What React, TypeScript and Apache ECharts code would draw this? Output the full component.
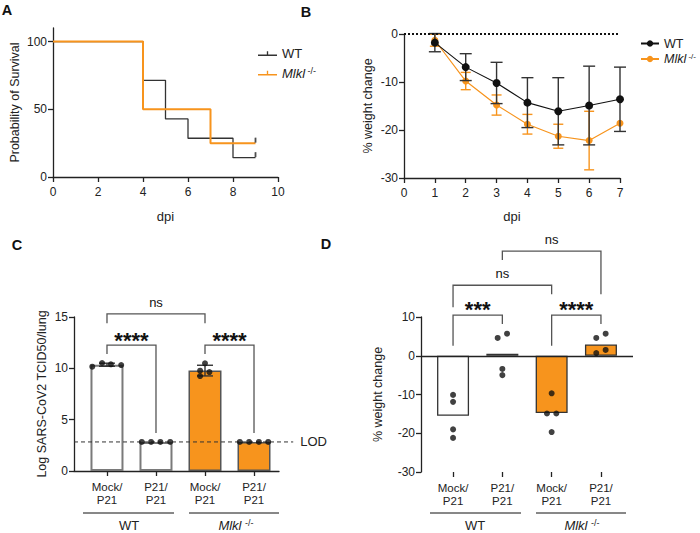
import React, { useEffect, useRef } from 'react';
import * as echarts from 'echarts';

const FONT = '"Liberation Sans", Arial, Helvetica, sans-serif';
const ORANGE = '#F7941D';
const INK = '#222222';

// ---------- Panel A: survival ----------
const survivalXMax = 10;
const survivalYTicks = [0, 50, 100];
const survivalWT = [[0, 100], [4, 71.4], [5, 42.9], [6, 28.6], [8, 14.3], [9, 14.3]];
const survivalMlkl = [[0, 100], [4, 50], [7, 25], [9, 25]];
const censoredWT = [[9, 14.3]];
const censoredMlkl = [[9, 25]];

// ---------- Panel B: weight change over time ----------
const weightDays = [1, 2, 3, 4, 5, 6, 7];
const weightWT = [-1.8, -6.9, -10.2, -14.3, -16.1, -14.9, -13.6];
const weightWTsd = [1.9, 2.8, 4.3, 5.2, 7.0, 8.2, 6.7];
const weightMlkl = [-1.3, -9.8, -14.8, -18.8, -21.3, -22.2, -18.6];
const weightMlklSd = [1.25, 1.8, 2.1, 2.05, 2.5, 6.1, 0];

// ---------- Panel C: lung titers ----------
const groupLabels = ['Mock/\nP21', 'P21/\nP21', 'Mock/\nP21', 'P21/\nP21'];
const groupIdx = [0, 1, 2, 3];
const titerMeans = [10.35, 2.83, 9.78, 2.83];
const titerSD = [0.15, 0, 0.52, 0];
// [group, jitter, value]
const titerDots = [
  [0, -0.3, 10.16], [0, -0.1, 10.52], [0, 0.08, 10.39], [0, 0.29, 10.32],
  [1, -0.29, 2.83], [1, -0.1, 2.83], [1, 0.09, 2.83], [1, 0.29, 2.83],
  [2, 0, 10.49], [2, -0.1, 9.77], [2, 0.09, 9.64], [2, -0.1, 9.25],
  [3, -0.29, 2.83], [3, -0.1, 2.83], [3, 0.1, 2.83], [3, 0.29, 2.83],
];
const LOD = 2.83;
// [x1, x2, top, leftEnd, rightEnd, labelY]
const titerBrackets = [
  [0, 1, 12.27, 11.4, 3.7, 13.2],
  [2, 3, 12.27, 11.4, 3.7, 13.2],
  [0, 2, 15.3, 14.4, 14.4, 16.4],
];
const titerBracketLabels = ['****', '****', 'ns'];

// ---------- Panel D: weight change at endpoint ----------
const endWeightMeans = [-15.5, 0.5, -14.8, 2.9];
const endWeightDots = [
  [0, 0, -10.1], [0, 0, -11.9], [0, 0, -19.0], [0, 0, -21.2],
  [1, -0.095, 4.6], [1, 0.095, 5.7], [1, 0, -3.4], [1, 0, -5.0],
  [2, 0, -9.7], [2, -0.095, -14.9], [2, 0.095, -14.9], [2, 0, -19.7],
  [3, -0.095, 4.6], [3, 0.095, 5.7], [3, 0.095, 1.5], [3, -0.095, 0.7],
];
const endBrackets = [
  [0, 1, 10.5, 2.6, 8.2, 13.1],
  [2, 3, 10.5, 2.6, 8.2, 13.1],
  [0, 2, 18.2, 12.5, 15.9, 21.3],
  [1, 3, 27.0, 24.7, 15.9, 30.1],
];
const endBracketLabels = ['***', '****', 'ns', 'ns'];

const groupFill = ['#ffffff', '#ffffff', ORANGE, ORANGE];

const mlklRich = {
  i: { fontStyle: 'italic', fontSize: 13, fontFamily: FONT, color: INK, lineHeight: 14 },
  s: { fontSize: 9, fontFamily: FONT, color: INK, verticalAlign: 'top', lineHeight: 14 },
  n: { fontSize: 13, fontFamily: FONT, color: INK, lineHeight: 14 },
};
const mlklRichSmall = {
  i: { fontStyle: 'italic', fontSize: 12.5, fontFamily: FONT, color: INK, lineHeight: 14 },
  s: { fontSize: 8, fontFamily: FONT, color: INK, verticalAlign: 'top', lineHeight: 14 },
  n: { fontSize: 12.5, fontFamily: FONT, color: INK, lineHeight: 14 },
};
const legendFormatter = (name: string) => (name.startsWith('WT') ? '{n|WT}' : '{i|Mlkl}{s| -/-}');

const tickIcon = 'path://M0,4.5L20,4.5L20,6L0,6Z M9.3,1L10.7,1L10.7,4.5L9.3,4.5Z';

const axisLine = { onZero: false, lineStyle: { color: INK, width: 1.3 } };
const axisTick = { length: 5, lineStyle: { color: INK, width: 1.3 } };
const tickLabel = { fontSize: 12, color: INK, fontFamily: FONT };

function errorBars(xi: number, yi: number, data: number[][], color: string, half: number, z: number) {
  return {
    type: 'custom',
    xAxisIndex: xi,
    yAxisIndex: yi,
    z,
    silent: true,
    clip: false,
    data,
    encode: { x: 0, y: [1, 2] },
    renderItem: (params: any, api: any) => {
      const x = api.value(0);
      const lo = api.value(1);
      const hi = api.value(2);
      if (hi - lo <= 0) return { type: 'group', children: [] };
      const a = api.coord([x, lo]);
      const b = api.coord([x, hi]);
      const st = { stroke: color, lineWidth: 1.4 };
      return {
        type: 'group',
        children: [
          { type: 'line', shape: { x1: a[0], y1: a[1], x2: b[0], y2: b[1] }, style: st },
          { type: 'line', shape: { x1: a[0] - half, y1: a[1], x2: a[0] + half, y2: a[1] }, style: st },
          { type: 'line', shape: { x1: b[0] - half, y1: b[1], x2: b[0] + half, y2: b[1] }, style: st },
        ],
      };
    },
  };
}

function brackets(xi: number, yi: number, rows: number[][], labels: string[]) {
  return {
    type: 'custom',
    xAxisIndex: xi,
    yAxisIndex: yi,
    z: 6,
    silent: true,
    clip: false,
    data: rows,
    encode: { x: [0, 1], y: [2, 3, 4, 5] },
    renderItem: (params: any, api: any) => {
      const x1 = api.value(0);
      const x2 = api.value(1);
      const top = api.value(2);
      const l = api.value(3);
      const r = api.value(4);
      const ty = api.value(5);
      const pTL = api.coord([x1, top]);
      const pTR = api.coord([x2, top]);
      const pL = api.coord([x1, l]);
      const pR = api.coord([x2, r]);
      const pT = api.coord([(x1 + x2) / 2, ty]);
      const label = labels[params.dataIndex];
      const star = label.startsWith('*');
      return {
        type: 'group',
        children: [
          {
            type: 'polyline',
            shape: { points: [pL, pTL, pTR, pR] },
            style: { stroke: '#555', lineWidth: 1.3, fill: 'none' },
          },
          {
            type: 'text',
            x: pT[0],
            y: pT[1] + (star ? 5 : 0),
            style: {
              text: label,
              fill: '#111',
              fontSize: star ? 22 : 13,
              fontWeight: star ? 'bold' : 'normal',
              fontFamily: FONT,
              align: 'center',
              verticalAlign: 'middle',
            },
          },
        ],
      };
    },
  };
}

function buildOption(): any {
  const catAxisLabel = {
    customValues: groupIdx,
    formatter: (v: number) => groupLabels[Math.round(v)] ?? '',
    fontSize: 11.5,
    lineHeight: 13,
    color: INK,
    fontFamily: FONT,
    margin: 9,
  };
  return {
    animation: false,
    backgroundColor: '#ffffff',
    textStyle: { fontFamily: FONT },
    grid: [
      { left: 53, top: 28, width: 225, height: 149 },
      { left: 404, top: 34, width: 216, height: 144 },
      { left: 74, top: 317, width: 205, height: 154 },
      { left: 421, top: 317, width: 212, height: 155 },
    ],
    legend: [
      {
        data: [
          { name: 'WT-A', icon: tickIcon },
          { name: 'Mlkl-A', icon: tickIcon },
        ],
        orient: 'vertical',
        left: 253,
        top: 42,
        itemWidth: 19,
        itemHeight: 6,
        itemGap: 6,
        selectedMode: false,
        formatter: legendFormatter,
        textStyle: { rich: mlklRich, fontSize: 13, color: INK },
      },
      {
        data: ['WT-B', 'Mlkl-B'],
        orient: 'vertical',
        left: 640,
        top: 37,
        itemWidth: 18,
        itemHeight: 8,
        itemGap: 2,
        padding: 0,
        selectedMode: false,
        formatter: legendFormatter,
        textStyle: { rich: mlklRichSmall, fontSize: 12.5, color: INK },
      },
    ],
    xAxis: [
      {
        gridIndex: 0, type: 'value', min: 0, max: survivalXMax, interval: 2,
        axisLine, axisTick, axisLabel: { ...tickLabel, margin: 9 }, splitLine: { show: false },
        name: 'dpi', nameLocation: 'middle', nameGap: 33,
        nameTextStyle: { fontSize: 13, color: INK, fontFamily: FONT },
      },
      {
        gridIndex: 1, type: 'value', min: 0, max: 7, interval: 1,
        axisLine, axisTick, axisLabel: { ...tickLabel, margin: 9 }, splitLine: { show: false },
        name: 'dpi', nameLocation: 'middle', nameGap: 32,
        nameTextStyle: { fontSize: 13, color: INK, fontFamily: FONT },
      },
      {
        gridIndex: 2, type: 'value', min: -0.673, max: 3.51,
        axisLine, axisTick: { ...axisTick, customValues: groupIdx }, axisLabel: catAxisLabel,
        splitLine: { show: false },
      },
      {
        gridIndex: 3, type: 'value', min: -0.65, max: 3.65,
        axisLine: { ...axisLine, show: false }, axisTick: { ...axisTick, show: true, customValues: groupIdx },
        axisLabel: catAxisLabel, splitLine: { show: false },
      },
    ],
    yAxis: [
      {
        gridIndex: 0, type: 'value', min: 0, max: 110,
        axisLine, axisTick: { ...axisTick, customValues: survivalYTicks },
        axisLabel: { ...tickLabel, margin: 6, customValues: survivalYTicks }, splitLine: { show: false },
        name: 'Probability of Survival', nameLocation: 'middle', nameGap: 32, nameRotate: 90,
        nameTextStyle: { fontSize: 12.5, color: INK, fontFamily: FONT },
      },
      {
        gridIndex: 1, type: 'value', min: -30, max: 0, interval: 10,
        axisLine, axisTick, axisLabel: { ...tickLabel, margin: 6 }, splitLine: { show: false },
        name: '% weight change', nameLocation: 'middle', nameGap: 30, nameRotate: 90,
        nameTextStyle: { fontSize: 12.5, color: INK, fontFamily: FONT },
      },
      {
        gridIndex: 2, type: 'value', min: 0, max: 15, interval: 5,
        axisLine, axisTick, axisLabel: { ...tickLabel, margin: 6 }, splitLine: { show: false },
        name: 'Log SARS-CoV2 TCID50/lung', nameLocation: 'middle', nameGap: 26, nameRotate: 90,
        nameTextStyle: { fontSize: 12.5, color: INK, fontFamily: FONT },
      },
      {
        gridIndex: 3, type: 'value', min: -30, max: 10, interval: 10,
        axisLine, axisTick, axisLabel: { ...tickLabel, margin: 6 }, splitLine: { show: false },
        name: '% weight change', nameLocation: 'middle', nameGap: 37, nameRotate: 90,
        nameTextStyle: { fontSize: 12.5, color: INK, fontFamily: FONT },
      },
    ],
    series: [
      // ---- A ----
      {
        name: 'WT-A', type: 'line', xAxisIndex: 0, yAxisIndex: 0, step: 'end',
        data: survivalWT, symbol: 'none', showSymbol: false,
        lineStyle: { color: '#333', width: 1.3 }, itemStyle: { color: '#333' },
      },
      {
        name: 'Mlkl-A', type: 'line', xAxisIndex: 0, yAxisIndex: 0, step: 'end',
        data: survivalMlkl, symbol: 'none', showSymbol: false,
        lineStyle: { color: ORANGE, width: 2 }, itemStyle: { color: ORANGE },
      },
      {
        type: 'scatter', xAxisIndex: 0, yAxisIndex: 0, data: [...censoredWT, ...censoredMlkl],
        symbol: 'rect', symbolSize: [1.8, 5], symbolOffset: [0, -3], itemStyle: { color: '#222' },
        clip: false, silent: true, z: 4,
      },
      // ---- B ----
      errorBars(1, 1, weightDays.map((d, i) => [d, weightMlkl[i] - weightMlklSd[i], weightMlkl[i] + weightMlklSd[i]]), ORANGE, 5, 2),
      {
        name: 'Mlkl-B', type: 'line', xAxisIndex: 1, yAxisIndex: 1,
        data: weightDays.map((d, i) => [d, weightMlkl[i]]),
        symbol: 'circle', symbolSize: 7, lineStyle: { color: ORANGE, width: 1.2 }, itemStyle: { color: ORANGE }, z: 3,
      },
      errorBars(1, 1, weightDays.map((d, i) => [d, weightWT[i] - weightWTsd[i], weightWT[i] + weightWTsd[i]]), '#333', 6, 4),
      {
        name: 'WT-B', type: 'line', xAxisIndex: 1, yAxisIndex: 1,
        data: weightDays.map((d, i) => [d, weightWT[i]]),
        symbol: 'circle', symbolSize: 8, lineStyle: { color: '#111', width: 1.1 }, itemStyle: { color: '#111' }, z: 5,
        markLine: {
          silent: true, symbol: 'none', label: { show: false },
          lineStyle: { color: '#111', width: 2, type: 'dotted' },
          data: [{ yAxis: 0 }],
        },
      },
      // ---- C ----
      {
        type: 'bar', xAxisIndex: 2, yAxisIndex: 2, barWidth: 33, silent: true,
        data: titerMeans.map((v, i) => ({
          value: [i, v],
          itemStyle: {
            color: groupFill[i],
            borderColor: i < 2 ? '#7a7a7a' : '#555',
            borderWidth: i < 2 ? 2 : 1.5,
          },
        })),
      },
      errorBars(2, 2, titerMeans.map((m, i) => [i, m - titerSD[i], m + titerSD[i]]), '#333', 8, 4),
      {
        type: 'custom', xAxisIndex: 2, yAxisIndex: 2, silent: true, clip: false, z: 3,
        data: [[-0.673, 3.8, LOD]],
        encode: { x: [0, 1], y: 2 },
        renderItem: (params: any, api: any) => {
          const a = api.coord([api.value(0), api.value(2)]);
          const b = api.coord([api.value(1), api.value(2)]);
          return {
            type: 'group',
            children: [
              { type: 'line', shape: { x1: a[0], y1: a[1], x2: b[0], y2: b[1] }, style: { stroke: '#333', lineWidth: 1, lineDash: [4, 3] } },
              { type: 'text', x: b[0] + 7, y: b[1], style: { text: 'LOD', fontSize: 13, fill: INK, fontFamily: FONT, align: 'left', verticalAlign: 'middle' } },
            ],
          };
        },
      },
      {
        type: 'scatter', xAxisIndex: 2, yAxisIndex: 2, symbolSize: 6, silent: true, z: 5,
        data: titerDots.map((d) => [d[0] + d[1], d[2]]), itemStyle: { color: '#111' },
      },
      brackets(2, 2, titerBrackets, titerBracketLabels),
      // ---- D ----
      {
        type: 'bar', xAxisIndex: 3, yAxisIndex: 3, barWidth: 32, silent: true,
        data: endWeightMeans.map((v, i) => ({
          value: [i, v],
          itemStyle: { color: groupFill[i], borderColor: '#333', borderWidth: 1.3 },
        })),
        markLine: {
          silent: true, symbol: 'none', label: { show: false },
          lineStyle: { color: INK, width: 1.3, type: 'solid' },
          data: [{ yAxis: 0 }],
        },
      },
      {
        type: 'scatter', xAxisIndex: 3, yAxisIndex: 3, symbolSize: 6, silent: true, z: 5,
        data: endWeightDots.map((d) => [d[0] + d[1], d[2]]), itemStyle: { color: '#111' },
      },
      brackets(3, 3, endBrackets, endBracketLabels),
    ],
    graphic: [
      { type: 'text', x: 7, y: 10, style: { text: 'A', font: `bold 14.5px ${FONT}`, fill: '#111', align: 'center', verticalAlign: 'middle' } },
      { type: 'text', x: 306, y: 12, style: { text: 'B', font: `bold 14.5px ${FONT}`, fill: '#111', align: 'center', verticalAlign: 'middle' } },
      { type: 'text', x: 17, y: 245, style: { text: 'C', font: `bold 14.5px ${FONT}`, fill: '#111', align: 'center', verticalAlign: 'middle' } },
      { type: 'text', x: 326, y: 244, style: { text: 'D', font: `bold 14.5px ${FONT}`, fill: '#111', align: 'center', verticalAlign: 'middle' } },
      // group underlines & labels (C)
      { type: 'line', shape: { x1: 83, y1: 513, x2: 174, y2: 513 }, style: { stroke: '#111', lineWidth: 1 } },
      { type: 'line', shape: { x1: 189, y1: 513, x2: 279, y2: 513 }, style: { stroke: '#111', lineWidth: 1 } },
      { type: 'text', x: 129, y: 525, style: { text: 'WT', fontSize: 13, fontFamily: FONT, fill: INK, align: 'center', verticalAlign: 'middle' } },
      { type: 'text', x: 236, y: 525, style: { text: '{i|Mlkl} {s|-/-}', rich: mlklRich, fontSize: 13, fontFamily: FONT, fill: INK, align: 'center', verticalAlign: 'middle' } },
      // group underlines & labels (D)
      { type: 'line', shape: { x1: 430, y1: 513, x2: 521, y2: 513 }, style: { stroke: '#111', lineWidth: 1 } },
      { type: 'line', shape: { x1: 536, y1: 513, x2: 626, y2: 513 }, style: { stroke: '#111', lineWidth: 1 } },
      { type: 'text', x: 475, y: 525, style: { text: 'WT', fontSize: 13, fontFamily: FONT, fill: INK, align: 'center', verticalAlign: 'middle' } },
      { type: 'text', x: 582, y: 525, style: { text: '{i|Mlkl} {s|-/-}', rich: mlklRich, fontSize: 13, fontFamily: FONT, fill: INK, align: 'center', verticalAlign: 'middle' } },
    ],
  };
}

export default function App() {
  const ref = useRef<HTMLDivElement>(null);
  useEffect(() => {
    if (!ref.current) return;
    const chart = echarts.init(ref.current, null, { renderer: 'svg' });
    chart.setOption(buildOption());
    return () => chart.dispose();
  }, []);
  return (
    <div
      ref={ref}
      style={{ position: 'absolute', left: 0, top: 0, width: 700, height: 533, background: '#fff' }}
    />
  );
}
